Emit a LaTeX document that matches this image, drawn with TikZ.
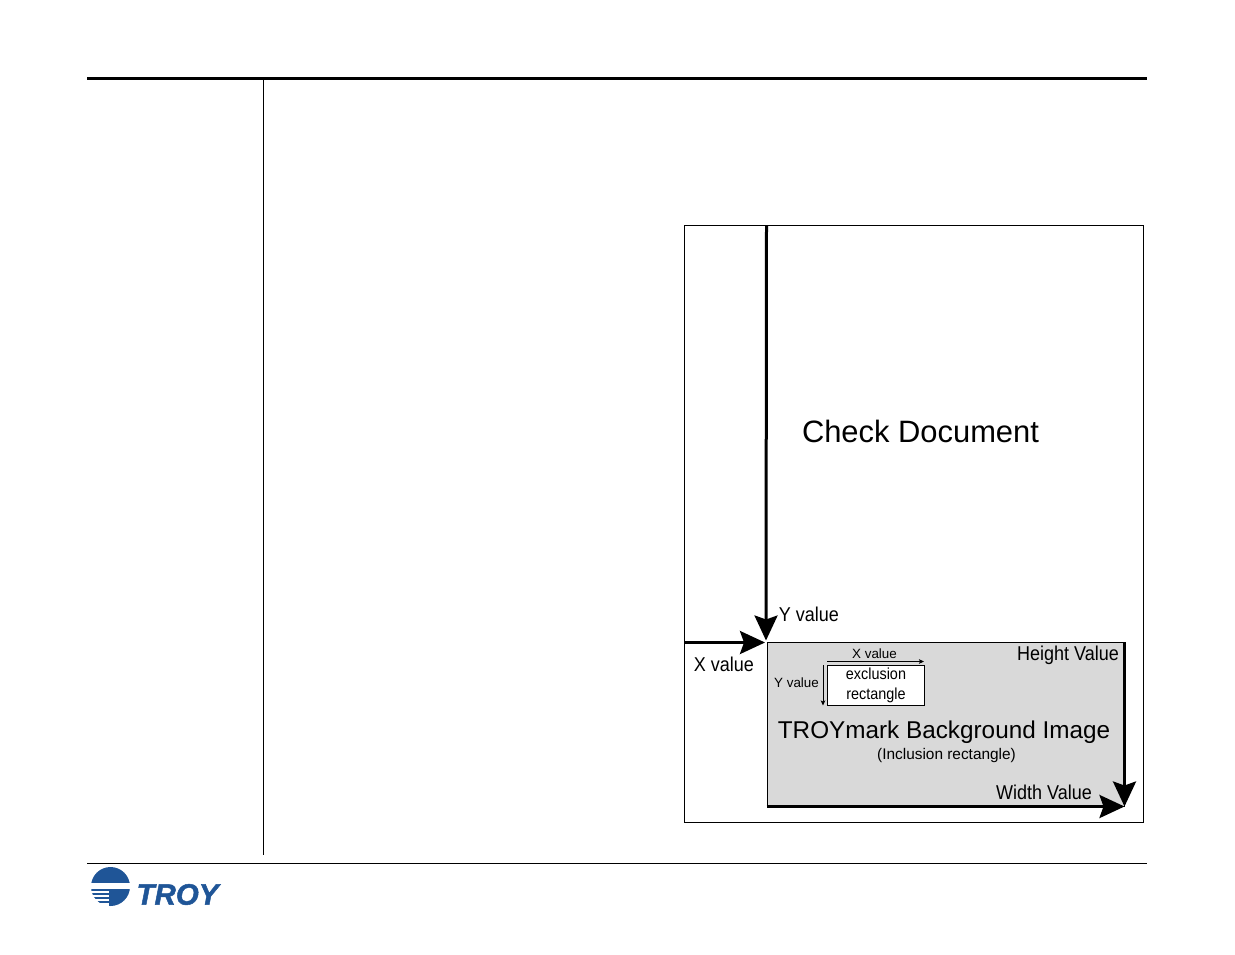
\documentclass[tikz,border=0pt]{standalone}
\usepackage{fontspec}
\setmainfont{Liberation Sans}
\newfontfamily\narrowfont[FakeStretch=0.9]{Liberation Sans}
\newfontfamily\logofont[BoldItalicFeatures={FakeBold=1.5}]{Liberation Sans}
\usetikzlibrary{arrows.meta}
\definecolor{troyblue}{HTML}{1F5597}
\definecolor{imagegray}{HTML}{D9D9D9}
\tikzset{
  box/.style={draw, line width=1pt, inner sep=0pt},
  bigarrow/.style={line width=3pt, -{Stealth[length=25pt,width=23pt,inset=4pt]}},
  tinyarrow/.style={line width=0.8pt, -{Stealth[length=5pt,width=4.5pt,inset=1pt]}},
  rule/.style={line width=1.3pt},
  label/.style={inner sep=0pt, font=\narrowfont\fontsize{20}{20}\selectfont},
  small/.style={inner sep=0pt, font=\fontsize{13.4}{13.4}\selectfont}
}
\begin{document}
\begin{tikzpicture}[x=1pt, y=-1pt]
  \useasboundingbox (0,0) rectangle (1235,954);

  % page rules
  \coordinate (TopL) at (87,78);
  \coordinate (TopR) at (1147,78);
  \coordinate (BotL) at (87,863.5);
  \coordinate (BotR) at (1147,863.5);
  \coordinate (SideT) at (263.5,78);
  \coordinate (SideB) at (263.5,855);
  \draw[line width=3pt] (TopL) -- (TopR);
  \draw[rule] (SideT) -- (SideB);
  \draw[rule] (BotL) -- (BotR);

  % check and image
  \node (Check) at (914,524) [box, minimum width=459pt, minimum height=597pt] {};
  \node (Image) at (945.5,724.25) [box, fill=imagegray, minimum width=357pt, minimum height=163.5pt] {};
  \node (Excl) at (875.75,685.5) [box, fill=white, minimum width=97pt, minimum height=40pt] {};

  \node (CheckText) at (920.5,431) [inner sep=0pt, font=\fontsize{30.9}{31}\selectfont] {Check Document};
  \node (YText) at (809,614) [label] {Y value};
  \node (XText) at (724,664.5) [label] {X value};
  \node (HText) at (1068,655.5) [label] {Height Value};
  \node (WText) at (1044,792.5) [label] {Width Value};
  \node (ImageText) at (944,732) [inner sep=0pt, font=\fontsize{24.3}{24.3}\selectfont] {TROYmark Background Image};
  \node (InclText) at (946.5,755.5) [small, font=\fontsize{15.4}{15.4}\selectfont] {(Inclusion rectangle)};
  \node (ExclText) at (876,685) [small, align=center, font=\narrowfont\fontsize{16}{20}\selectfont] {exclusion\\rectangle};
  \node (SmallX) at (874.5,654) [small] {X value};
  \node (SmallY) at (796.5,683) [small] {Y value};

  % arrows
  \coordinate (YStart) at (766.5,226);
  \coordinate (YTip) at (766,640.5);
  \coordinate (XStart) at (685,642.5);
  \coordinate (XTip) at (765,642.5);
  \draw[bigarrow] (YStart) -- (YTip);
  \draw[bigarrow] (XStart) -- (XTip);
  \draw[bigarrow] (Image.north east) -- (Image.south east);
  \draw[bigarrow] (Image.south west) -- (Image.south east);
  \coordinate (SmallXA) at (827,661.5);
  \coordinate (SmallXB) at (924,661.5);
  \coordinate (SmallYA) at (823,665);
  \coordinate (SmallYB) at (823,705.5);
  \draw[tinyarrow] (SmallXA) -- (SmallXB);
  \draw[tinyarrow] (SmallYA) -- (SmallYB);

  % logo
  \begin{scope}
    \clip (110.5,886.5) circle (19.5);
    \fill[troyblue] (90,866) rectangle (131,883);
    \fill[troyblue] (109,889) rectangle (131,907);
    \foreach \ypos in {889,893,897,901}
      \fill[troyblue] (90,\ypos) rectangle (109,\ypos+2);
  \end{scope}
  \node (Logo) at (177.5,894.5) [inner sep=0pt, text=troyblue, font=\logofont\fontsize{29.5}{29.5}\selectfont\bfseries\itshape] {TROY};
\end{tikzpicture}
\end{document}
